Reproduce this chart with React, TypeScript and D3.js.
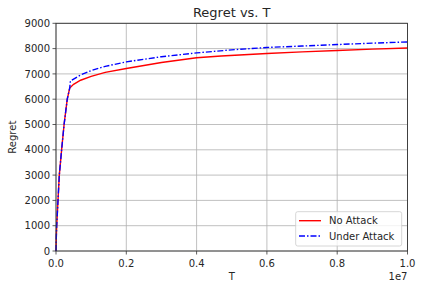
import React from "react";
import * as d3 from "d3";

const xTicks = [0, 0.2, 0.4, 0.6, 0.8, 1.0];
const yTicks = [0, 1000, 2000, 3000, 4000, 5000, 6000, 7000, 8000, 9000];

const noAttackT = [0, 0.001, 0.002, 0.0057, 0.0094, 0.016, 0.023, 0.032, 0.039, 0.05, 0.07, 0.1, 0.14, 0.2, 0.3, 0.4, 0.47, 0.6, 0.7, 0.8, 0.9, 1.0];
const noAttackR = [0, 600, 1000, 2000, 3000, 4000, 5000, 6000, 6440, 6590, 6750, 6900, 7060, 7215, 7450, 7640, 7710, 7805, 7870, 7923, 7980, 8026];

const underAttackT = [0, 0.001, 0.002, 0.0057, 0.0094, 0.016, 0.023, 0.032, 0.039, 0.041, 0.07, 0.1, 0.14, 0.2, 0.3, 0.4, 0.5, 0.6, 0.7, 0.8, 0.9, 1.0];
const underAttackR = [0, 600, 1000, 2000, 3000, 4000, 5000, 6000, 6440, 6720, 6960, 7130, 7300, 7475, 7680, 7830, 7950, 8045, 8100, 8160, 8215, 8263];

const W = 423, H = 291;
const L = 56, R = 407.5, T = 23.3, B = 251;

export default function App() {
  const x = d3.scaleLinear().domain([0, 1]).range([L, R]);
  const y = d3.scaleLinear().domain([0, 9000]).range([B, T]);
  const line = d3.line<[number, number]>().x(d => x(d[0])).y(d => y(d[1]));
  const red = noAttackT.map((t, i) => [t, noAttackR[i]] as [number, number]);
  const blue = underAttackT.map((t, i) => [t, underAttackR[i]] as [number, number]);
  const font = "DejaVu Sans, sans-serif";
  const tc = "#262626";
  return (
    <svg width={W} height={H} style={{ position: "absolute", left: 0, top: 0, background: "#fff" }} fontFamily={font}>
      <rect width={W} height={H} fill="#fff" />
      {xTicks.map(t => (
        <line key={"gx" + t} x1={x(t)} x2={x(t)} y1={T} y2={B} stroke="#b0b0b0" strokeWidth={0.8} />
      ))}
      {yTicks.map(t => (
        <line key={"gy" + t} x1={L} x2={R} y1={y(t)} y2={y(t)} stroke="#b0b0b0" strokeWidth={0.8} />
      ))}
      <path d={line(red) || ""} fill="none" stroke="#ff0000" strokeWidth={1.4} />
      <path d={line(blue) || ""} fill="none" stroke="#0000ff" strokeWidth={1.4} strokeDasharray="6,2,1.5,2" />
      <rect x={L} y={T} width={R - L} height={B - T} fill="none" stroke="#333" strokeWidth={0.9} />
      {xTicks.map(t => (
        <g key={"tx" + t}>
          <line x1={x(t)} x2={x(t)} y1={B} y2={B + 3.5} stroke="#333" strokeWidth={0.8} />
          <text x={x(t)} y={B + 16} textAnchor="middle" fontSize={10} fill={tc}>{t.toFixed(1)}</text>
        </g>
      ))}
      {yTicks.map(t => (
        <g key={"ty" + t}>
          <line x1={L - 3.5} x2={L} y1={y(t)} y2={y(t)} stroke="#333" strokeWidth={0.8} />
          <text x={L - 6} y={y(t) + 3.6} textAnchor="end" fontSize={10} fill={tc}>{t}</text>
        </g>
      ))}
      <text x={R} y={280} textAnchor="end" fontSize={10} fill={tc}>1e7</text>
      <text x={(L + R) / 2} y={280} textAnchor="middle" fontSize={10} fill={tc}>T</text>
      <text transform={`translate(16,${(T + B) / 2}) rotate(-90)`} textAnchor="middle" fontSize={10} fill={tc}>Regret</text>
      <text x={(L + R) / 2} y={17} textAnchor="middle" fontSize={13} fill={tc}>Regret vs. T</text>
      <g>
        <rect x={295.7} y={211.7} width={106} height={34.3} rx={2} fill="#fff" fillOpacity={0.8} stroke="#ccc" strokeWidth={0.8} />
        <line x1={299} x2={321} y1={220.7} y2={220.7} stroke="#ff0000" strokeWidth={1.4} />
        <text x={329} y={224.3} fontSize={10} fill={tc}>No Attack</text>
        <line x1={299} x2={321} y1={236} y2={236} stroke="#0000ff" strokeWidth={1.4} strokeDasharray="6,2,1.5,2" />
        <text x={329} y={239.6} fontSize={10} fill={tc}>Under Attack</text>
      </g>
    </svg>
  );
}
